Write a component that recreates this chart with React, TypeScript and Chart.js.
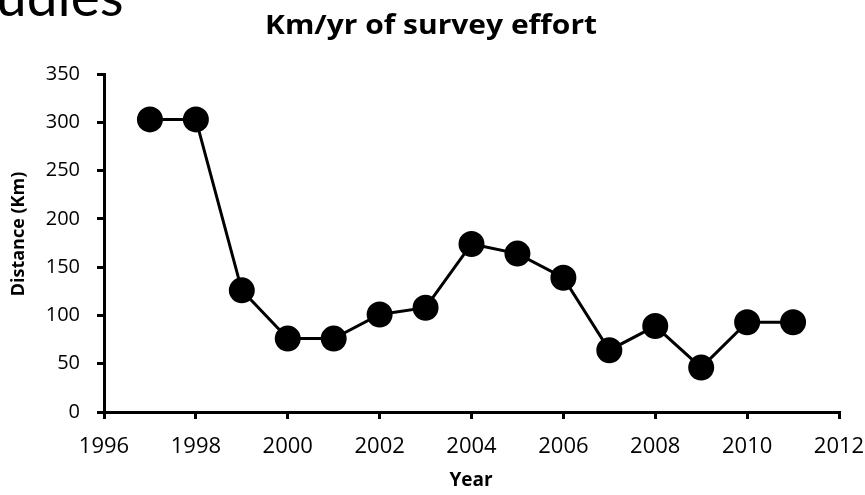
import React, { useEffect, useRef } from "react";
import { Chart, registerables } from "chart.js";

Chart.register(...registerables);

const years = [1997, 1998, 1999, 2000, 2001, 2002, 2003, 2004, 2005, 2006, 2007, 2008, 2009, 2010, 2011];
const distanceKm = [303, 303, 126, 76, 76, 101, 108, 174, 164, 139, 64, 89, 46, 93, 93];
const chartTitle = "Km/yr of survey effort";
const xTitle = "Year";
const yTitle = "Distance (Km)";
const slideFragment = "udies";

const FONT = "'Open Sans', Lato, sans-serif";

const textPlugin = {
  id: "customTexts",
  afterDraw(chart: any) {
    const c = chart.ctx;
    c.save();
    c.fillStyle = "#000";
    c.textAlign = "center";
    c.textBaseline = "middle";
    // chart title, slightly stretched horizontally like the original
    c.save();
    c.font = `bold 26px ${FONT}`;
    const tw = c.measureText(chartTitle).width;
    const sx = 332 / tw;
    c.translate(431, 27);
    c.scale(sx, 1);
    c.fillText(chartTitle, 0, 0);
    c.restore();
    // y axis title
    c.save();
    c.font = `bold 18px ${FONT}`;
    c.translate(19, 234);
    c.rotate(-Math.PI / 2);
    c.fillText(yTitle, 0, 0);
    c.restore();
    // x axis title
    c.font = `bold 19px ${FONT}`;
    c.fillText(xTitle, 471, 481);
    c.restore();
  },
};

export default function App() {
  const ref = useRef<HTMLCanvasElement | null>(null);

  useEffect(() => {
    document.body.style.margin = "0";
    const ctx = ref.current;
    if (!ctx) return;
    const chart = new Chart(ctx, {
      type: "line",
      data: {
        datasets: [
          {
            data: years.map((y, i) => ({ x: y, y: distanceKm[i] })),
            borderColor: "#000",
            backgroundColor: "#000",
            borderWidth: 3,
            pointRadius: 11.5,
            pointHoverRadius: 11.5,
            pointBackgroundColor: "#000",
            pointBorderColor: "#000",
            tension: 0,
          },
        ],
      },
      plugins: [textPlugin],
      options: {
        animation: false,
        responsive: true,
        maintainAspectRatio: false,
        layout: { padding: { left: 0, right: 26, top: 74, bottom: 0 } },
        plugins: {
          legend: { display: false },
          tooltip: { enabled: false },
          title: { display: false },
        },
        scales: {
          x: {
            type: "linear",
            min: 1996,
            max: 2012,
            ticks: { stepSize: 2, color: "#000", font: { family: FONT, size: 22 }, padding: 15, callback: (v: any) => String(v) },
            grid: { drawOnChartArea: false, drawTicks: true, tickLength: 7, color: "#000", lineWidth: 3 },
            border: { display: true, color: "#000", width: 3 },
            title: { display: false, text: xTitle },
            afterFit: (scale: any) => {
              scale.height = 83;
              scale.paddingRight = 0;
              scale.paddingLeft = 0;
            },
          },
          y: {
            min: 0,
            max: 350,
            ticks: { stepSize: 50, color: "#000", font: { family: FONT, size: 20 }, padding: 17 },
            grid: { drawOnChartArea: false, drawTicks: true, tickLength: 7, color: "#000", lineWidth: 3 },
            border: { display: true, color: "#000", width: 3 },
            title: { display: false, text: yTitle },
            afterFit: (scale: any) => {
              scale.width = 104;
              scale.paddingTop = 0;
              scale.paddingBottom = 0;
            },
          },
        },
      },
    });
    return () => chart.destroy();
  }, []);

  return (
    <div style={{ position: "relative", width: 865, height: 495, overflow: "hidden", background: "#fff" }}>
      <div
        style={{
          position: "absolute",
          left: -4,
          top: -32,
          fontFamily: "Lato, sans-serif",
          fontSize: 55,
          lineHeight: "55px",
          color: "#000",
          whiteSpace: "nowrap",
          zIndex: 2,
        }}
      >
        {slideFragment}
      </div>
      <canvas ref={ref} />
    </div>
  );
}
